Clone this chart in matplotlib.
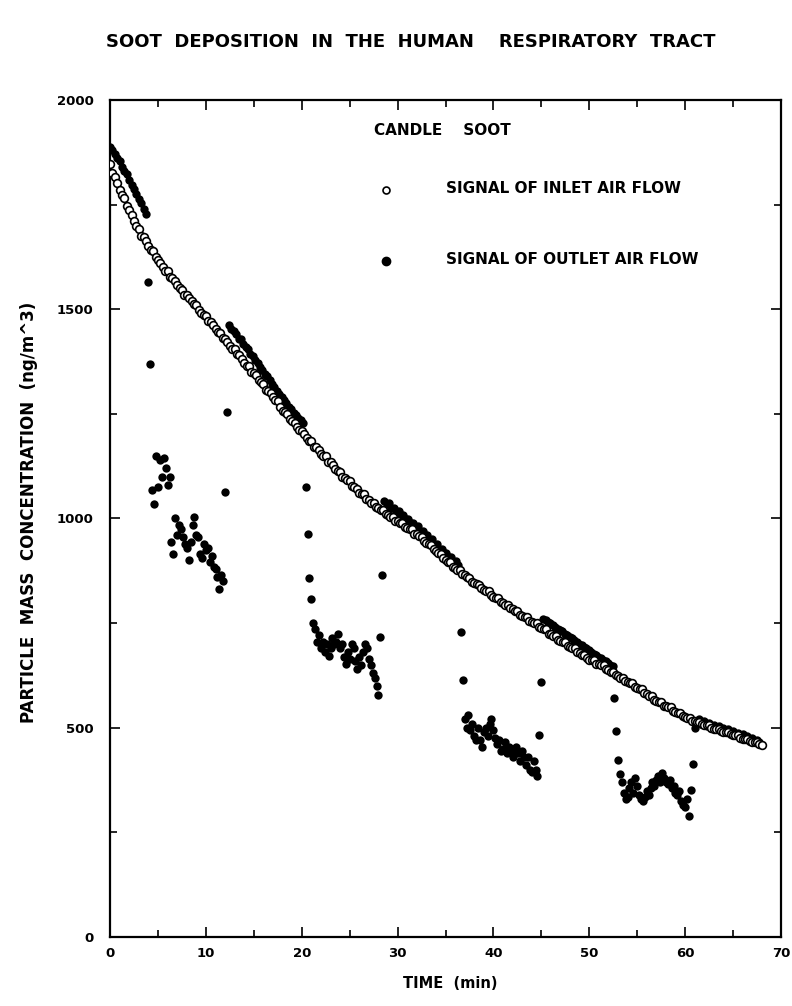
import numpy as np
import matplotlib
matplotlib.use('Agg')
import matplotlib.pyplot as plt
from matplotlib.ticker import MultipleLocator

# inlet signal, sampled every quarter minute from t = 0 (one row = 5 min)
inlet_start = 0.0
inlet_step = 0.25
inlet_conc = [
    1848, 1826, 1815, 1802, 1786, 1772, 1766, 1746, 1738, 1726, 1710, 1698, 1692, 1676, 1672, 1662, 1650, 1642, 1640, 1626,
    1618, 1611, 1601, 1592, 1592, 1578, 1574, 1567, 1558, 1550, 1547, 1534, 1533, 1527, 1519, 1512, 1510, 1498, 1492, 1486,
    1484, 1471, 1470, 1462, 1453, 1446, 1444, 1432, 1430, 1422, 1413, 1406, 1404, 1392, 1390, 1382, 1371, 1365, 1364, 1350,
    1347, 1342, 1332, 1325, 1322, 1308, 1305, 1300, 1290, 1283, 1280, 1266, 1258, 1254, 1250, 1238, 1234, 1227, 1218, 1212,
    1208, 1202, 1193, 1186, 1184, 1172, 1170, 1163, 1154, 1150, 1149, 1136, 1135, 1128, 1119, 1114, 1112, 1100, 1096, 1092,
    1090, 1078, 1075, 1070, 1062, 1058, 1058, 1046, 1043, 1038, 1037, 1028, 1025, 1020, 1020, 1010, 1008, 1004, 1004, 995,
    993, 990, 990, 980, 978, 974, 974, 964, 962, 957, 955, 946, 942, 938, 937, 926, 922, 918, 916, 906,
    901, 897, 895, 884, 881, 878, 877, 867, 864, 860, 859, 849, 847, 843, 842, 833, 830, 827, 826, 816,
    813, 810, 810, 800, 798, 794, 794, 785, 783, 779, 779, 770, 768, 765, 765, 755, 753, 750, 750, 741,
    738, 735, 735, 725, 723, 720, 720, 710, 708, 704, 704, 695, 693, 690, 690, 680, 678, 675, 674, 666,
    663, 661, 662, 653, 652, 649, 649, 640, 638, 634, 634, 625, 623, 620, 620, 611, 609, 606, 606, 598,
    595, 592, 592, 583, 580, 577, 577, 567, 565, 562, 562, 553, 551, 549, 549, 540, 538, 536, 536, 528,
    526, 524, 524, 517, 515, 514, 514, 508, 506, 506, 506, 500, 498, 498, 498, 492, 490, 490, 491, 485,
    483, 482, 482, 476, 474, 474, 474, 468, 466, 466, 466, 460, 458,
]

# outlet signal, recorded as runs of (start time, sampling step, values)
outlet_run_a = [1888, 1881, 1872, 1862, 1854, 1841, 1831, 1822, 1809, 1798,
                1787, 1776, 1763, 1753, 1740, 1728]
outlet_run_b = [1565, 1368, 1067, 1035, 1150, 1075, 1140, 1100, 1145, 1120,
                1080, 1098, 945, 915, 1000, 960, 985, 975, 955, 940,
                930, 900, 945, 985, 1003, 960, 955, 915, 905, 940,
                925, 930, 895, 910, 885, 880, 860, 832, 865, 850,
                1064, 1255]
outlet_run_c = [1462, 1452, 1449, 1440, 1430, 1428, 1418, 1410, 1404, 1393,
                1388, 1378, 1372, 1362, 1355, 1346, 1340, 1330, 1322, 1315,
                1305, 1298, 1290, 1282, 1275, 1266, 1262, 1252, 1248, 1240,
                1236, 1228]
outlet_run_d = [1076, 962, 859, 807, 750,
                735, 705, 722, 690, 706, 680, 700, 672, 690, 715,
                700, 705, 725, 690, 700, 670, 652, 680, 665, 700,
                690, 660, 640, 670, 650, 680, 700, 690, 665, 650,
                630, 620, 600, 578, 718, 864]
outlet_run_e = [1042, 1035, 1036, 1026, 1025, 1016, 1017, 1008, 1008, 999,
                999, 990, 989, 980, 981, 970, 970, 960, 961, 949,
                950, 938, 939, 927, 928, 917, 918, 907, 908, 897,
                899, 888]
outlet_run_f = [728, 613,
                520, 500, 530, 495, 510, 480, 470, 500, 470, 455,
                490, 500, 480, 510, 520, 495, 475, 460, 470, 445,
                450, 465, 440, 455, 450, 430, 440, 455, 440, 420,
                445, 430, 410, 430, 400, 395, 420, 400, 385,
                482, 609]
outlet_run_g = [760, 757, 752, 750, 745, 741, 737, 733, 730, 725,
                722, 717, 714, 709, 706, 701, 698, 693, 690, 685,
                682, 677, 674, 669, 666, 662, 659, 654, 651, 647]
outlet_run_h = [570, 492, 424,
                390, 370, 345, 330, 335, 355, 370, 345, 380, 360,
                340, 330, 325, 335, 350, 340, 355, 370, 360, 375,
                385, 370, 392, 380, 370, 365, 375, 355, 360, 345,
                340, 350, 325, 315, 310, 330, 288,
                351, 413]
outlet_run_i = [500, 512, 520, 508, 515, 505, 512, 500, 507, 498,
                503, 495, 500, 490, 496, 488, 492, 484, 488, 480,
                484, 476, 480, 472, 476, 468, 471, 465]

run_start = [0.0, 4.0, 12.4, 20.4, 28.6, 36.6, 45.2, 52.6, 61.0]
run_step = [0.25, 0.2, 0.25, 0.2, 0.25, 0.2, 0.25, 0.2, 0.25]
outlet_runs = [outlet_run_a, outlet_run_b, outlet_run_c, outlet_run_d,
               outlet_run_e, outlet_run_f, outlet_run_g, outlet_run_h,
               outlet_run_i]

inlet_time = inlet_start + inlet_step * np.arange(len(inlet_conc))
outlet_time = np.concatenate([t0 + dt * np.arange(len(v))
                              for t0, dt, v in zip(run_start, run_step, outlet_runs)])
outlet_conc = np.concatenate([np.asarray(v, float) for v in outlet_runs])

plt.rcParams['font.family'] = 'DejaVu Sans'

fig = plt.figure(figsize=(7.92, 10.06), dpi=100)
ax = fig.add_axes([0.139, 0.0686, 0.847, 0.832])

ax.plot(outlet_time, outlet_conc, 'o', color='black', markersize=6,
        markeredgewidth=0, zorder=2)
ax.plot(inlet_time, inlet_conc, 'o', markerfacecolor='white',
        markeredgecolor='black', markersize=5.6, markeredgewidth=1.2, zorder=3)

ax.set_xlim(0, 70)
ax.set_ylim(0, 2000)
ax.xaxis.set_major_locator(MultipleLocator(10))
ax.xaxis.set_minor_locator(MultipleLocator(5))
ax.yaxis.set_major_locator(MultipleLocator(500))
ax.yaxis.set_minor_locator(MultipleLocator(250))
ax.tick_params(which='both', direction='in', top=True, right=True, width=1.2)
ax.tick_params(which='major', length=7)
ax.tick_params(which='minor', length=5)
ax.tick_params(axis='x', pad=7, labelsize=9.5)
ax.tick_params(axis='y', pad=12, labelsize=9.5)
for lab in ax.get_xticklabels() + ax.get_yticklabels():
    lab.set_fontweight('bold')
for sp in ax.spines.values():
    sp.set_linewidth(1.6)

# legend block written inside the plot
ax.text(27.5, 1926, 'CANDLE    SOOT', fontsize=11, fontweight='bold', va='center')
ax.plot(28.8, 1785, 'o', markerfacecolor='white', markeredgecolor='black',
        markersize=5, markeredgewidth=1.2)
ax.text(35.0, 1788, 'SIGNAL OF INLET AIR FLOW', fontsize=11,
        fontweight='bold', va='center')
ax.plot(28.8, 1616, 'o', color='black', markersize=6)
ax.text(35.0, 1620, 'SIGNAL OF OUTLET AIR FLOW', fontsize=11,
        fontweight='bold', va='center')

fig.text(0.519, 0.958, 'SOOT  DEPOSITION  IN  THE  HUMAN    RESPIRATORY  TRACT',
         ha='center', va='center', fontsize=13, fontweight='bold')
fig.text(0.568, 0.022, 'TIME  (min)', ha='center', va='center',
         fontsize=10.5, fontweight='bold')
fig.text(0.036, 0.491, 'PARTICLE  MASS  CONCENTRATION  (ng/m^3)', rotation=90,
         ha='center', va='center', fontsize=12, fontweight='bold')

fig.savefig('out.png', dpi=100, facecolor='white')
